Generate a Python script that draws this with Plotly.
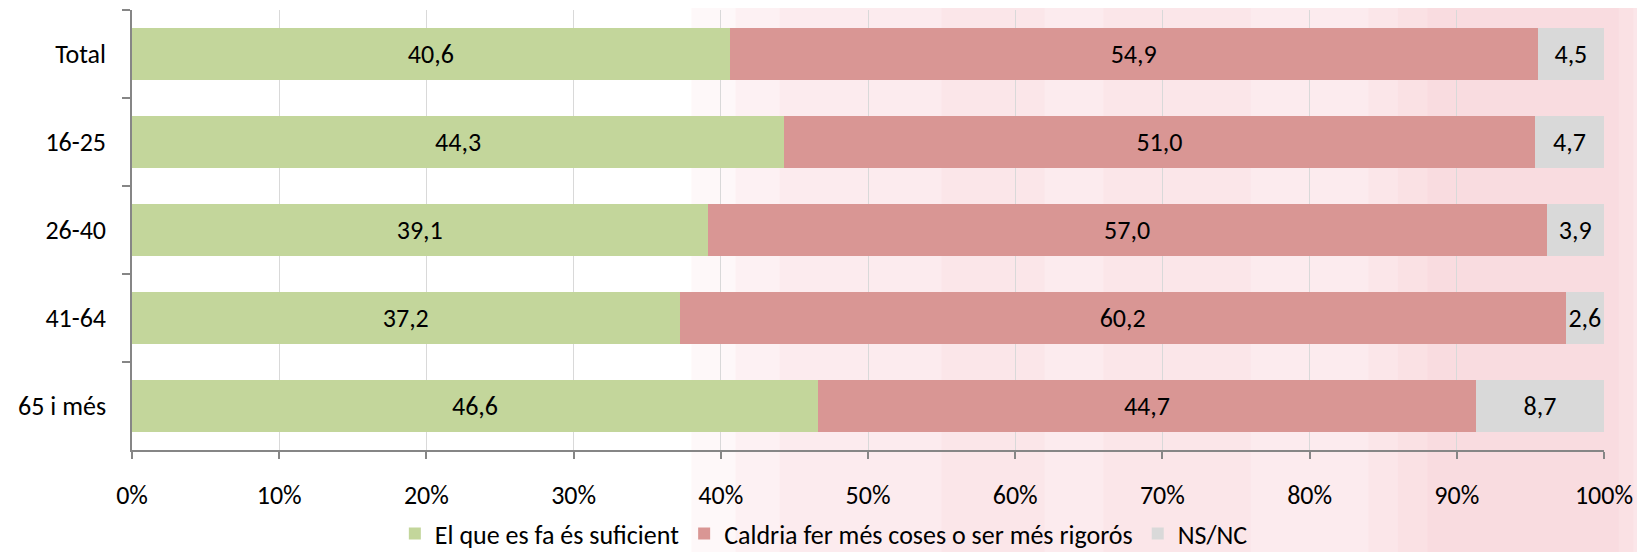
import plotly.graph_objects as go

# data
groups = ['Total', '16-25', '26-40', '41-64', '65 i més']
suficient = [40.6, 44.3, 39.1, 37.2, 46.6]
mes_coses = [54.9, 51.0, 57.0, 60.2, 44.7]
nsnc = [4.5, 4.7, 3.9, 2.6, 8.7]
series_names = ['El que es fa és suficient', 'Caldria fer més coses o ser més rigorós', 'NS/NC']
x_ticks = [0, 10, 20, 30, 40, 50, 60, 70, 80, 90, 100]
x_ticklabels = [str(t) + '%' for t in x_ticks]

colors = ['#C3D69B', '#D99694', '#D9D9D9']
fnt = 'Calibri, Carlito, Lato, sans-serif'


def lbl(vals):
    return [('%.1f' % v).replace('.', ',') for v in vals]


fig = go.Figure()
for name, vals, col in zip(series_names, [suficient, mes_coses, nsnc], colors):
    fig.add_trace(go.Bar(
        y=groups, x=vals, name=name, orientation='h',
        marker=dict(color=col, line=dict(width=0)),
        text=lbl(vals), textposition='inside', insidetextanchor='middle',
        constraintext='none', textangle=0,
        textfont=dict(family=fnt, size=26, color='black'),
        hoverinfo='skip'))

# faint watermark-like background (soft edges by stacking)
bg = [
    (0.38, 1.04, 0.10), (0.41, 1.04, 0.10), (0.44, 1.04, 0.10),
    (0.55, 0.62, 0.10), (0.66, 0.76, 0.10),
    (0.84, 1.04, 0.10), (0.86, 1.02, 0.12), (0.88, 1.01, 0.12),
]
shapes = []
for x0, x1, a in bg:
    shapes.append(dict(type='rect', xref='paper', yref='paper', x0=x0, x1=x1,
                       y0=-0.26, y1=1.03, fillcolor='rgba(245,190,198,%.2f)' % a,
                       line=dict(width=0), layer='below'))

# page body has an 8px margin, so margins are trimmed by 8px on the left/top
fig.update_layout(
    width=1637, height=544,
    margin=dict(l=124, r=41, t=2, b=102, autoexpand=False),
    barmode='stack', bargap=0.41,
    paper_bgcolor='white', plot_bgcolor='rgba(0,0,0,0)',
    font=dict(family=fnt, size=26, color='black'),
    shapes=shapes,
    legend=dict(orientation='h', x=0.470, xanchor='center', y=-0.19, yanchor='middle',
                font=dict(family=fnt, size=26), traceorder='normal',
                bgcolor='rgba(0,0,0,0)', itemwidth=30),
)
fig.update_xaxes(range=[0, 100], tickvals=x_ticks, ticktext=x_ticklabels,
                 showgrid=True, gridcolor='#D9D9D9', gridwidth=1,
                 showline=True, linecolor='#868686', linewidth=1.5,
                 ticks='outside', ticklen=7, tickcolor='#868686', tickwidth=1.5,
                 ticklabelstandoff=14, zeroline=False)
fig.update_yaxes(range=[4.5, -0.5], tickson='boundaries', showgrid=False,
                 showline=True, linecolor='#868686', linewidth=1.5,
                 ticks='outside', ticklen=8, tickcolor='#868686', tickwidth=1.5,
                 ticklabelstandoff=19)

fig.write_html('out.html')
